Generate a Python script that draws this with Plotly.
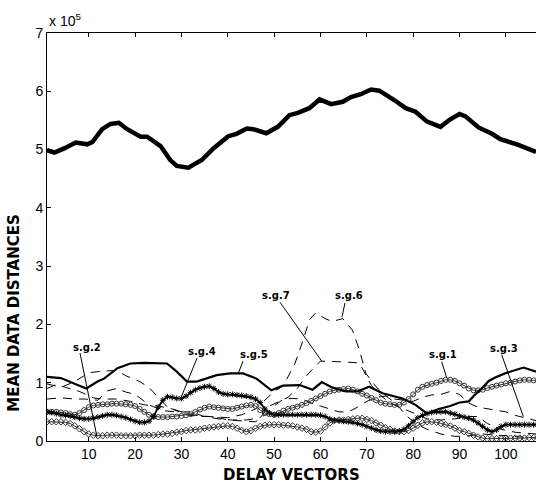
import plotly.graph_objects as go

# ---------------- data (values in units of 1e5) ----------------
mean_x = [1.0, 2.6, 4.7, 7.2, 9.7, 10.8, 12.9, 14.7, 16.5, 18.3, 21.2, 22.6, 25.5, 27.6, 29.0,
          31.5, 34.4, 36.9, 40.1, 41.9, 44.1, 45.5, 48.3, 50.8, 53.3, 55.1, 57.6, 59.8, 62.3,
          64.8, 66.6, 68.7, 70.9, 72.7, 75.9, 78.4, 80.5, 83.0, 85.9, 88.0, 90.0, 91.3, 94.1,
          97.0, 98.8, 102.7, 106.5]
mean_y = [4.99, 4.95, 5.02, 5.12, 5.09, 5.13, 5.35, 5.44, 5.46, 5.35, 5.22, 5.22, 5.06, 4.82, 4.72,
          4.69, 4.82, 5.02, 5.23, 5.27, 5.36, 5.35, 5.28, 5.39, 5.59, 5.63, 5.71, 5.86, 5.78,
          5.82, 5.90, 5.95, 6.03, 6.01, 5.85, 5.71, 5.65, 5.48, 5.39, 5.52, 5.61, 5.57, 5.38,
          5.27, 5.18, 5.08, 4.96]

sg5_x = [1, 4, 7.6, 9.5, 11.9, 13.3, 16.2, 19, 22, 26.9, 29, 31.2, 33.3, 35.5, 37.6, 40.5, 43.3,
         46.2, 49.4, 51.9, 55.5, 58.3, 60.3, 62.5, 65.5, 68, 70.5, 73.4, 77.7, 80.5, 83, 85.5,
         88, 90, 92, 93.4, 94.8, 96.3, 97.7, 99.8, 102, 103.8, 106.5]
sg5_y = [1.10, 1.08, 0.96, 0.90, 1.02, 1.07, 1.25, 1.33, 1.34, 1.33, 1.19, 1.02, 1.02, 1.07, 1.13,
         1.16, 1.16, 1.07, 0.87, 0.95, 0.96, 0.88, 1.01, 0.92, 0.85, 0.85, 0.93, 0.82, 0.73, 0.62,
         0.47, 0.55, 0.60, 0.66, 0.68, 0.80, 0.90, 1.03, 1.09, 1.16, 1.22, 1.26, 1.19]

delay = list(range(1, 108))
sg1_y = [0.50, 0.50, 0.50, 0.49, 0.48, 0.46, 0.45, 0.48, 0.53, 0.58, 0.61, 0.62, 0.63, 0.63, 0.64,
         0.64, 0.64, 0.63, 0.62, 0.60, 0.55, 0.50, 0.45, 0.42, 0.41, 0.41, 0.41, 0.42, 0.42, 0.43,
         0.44, 0.46, 0.50, 0.54, 0.57, 0.59, 0.58, 0.57, 0.56, 0.55, 0.55, 0.57, 0.59, 0.61, 0.62,
         0.60, 0.53, 0.48, 0.46, 0.45, 0.48, 0.52, 0.55, 0.57, 0.59, 0.62, 0.65, 0.69, 0.73, 0.77,
         0.81, 0.85, 0.87, 0.88, 0.89, 0.90, 0.88, 0.85, 0.81, 0.78, 0.74, 0.70, 0.66, 0.64, 0.63,
         0.62, 0.62, 0.66, 0.72, 0.80, 0.88, 0.93, 0.96, 0.98, 1.00, 1.03, 1.05, 1.05, 1.03, 0.99,
         0.95, 0.90, 0.87, 0.87, 0.88, 0.91, 0.93, 0.95, 0.97, 0.99, 1.00, 1.02, 1.04, 1.05, 1.05,
         1.04, 1.03]
sg2_y = [0.33, 0.33, 0.33, 0.33, 0.32, 0.30, 0.26, 0.21, 0.16, 0.12, 0.10, 0.09, 0.09, 0.10, 0.10,
         0.10, 0.09, 0.09, 0.09, 0.09, 0.10, 0.10, 0.10, 0.10, 0.11, 0.12, 0.12, 0.13, 0.15, 0.16,
         0.18, 0.19, 0.19, 0.20, 0.22, 0.23, 0.24, 0.25, 0.26, 0.26, 0.25, 0.22, 0.18, 0.16, 0.18,
         0.22, 0.25, 0.27, 0.28, 0.28, 0.28, 0.27, 0.27, 0.26, 0.24, 0.22, 0.20, 0.16, 0.15, 0.17,
         0.24, 0.31, 0.35, 0.36, 0.36, 0.37, 0.38, 0.39, 0.39, 0.37, 0.35, 0.31, 0.27, 0.23, 0.20,
         0.17, 0.16, 0.16, 0.18, 0.22, 0.27, 0.31, 0.33, 0.33, 0.32, 0.30, 0.28, 0.26, 0.22, 0.18,
         0.16, 0.13, 0.10, 0.07, 0.05, 0.04, 0.04, 0.04, 0.04, 0.05, 0.05, 0.05, 0.05, 0.05, 0.06,
         0.06, 0.06]
sg4_y = [0.50, 0.49, 0.47, 0.45, 0.44, 0.43, 0.41, 0.39, 0.38, 0.38, 0.39, 0.41, 0.43, 0.45, 0.45,
         0.44, 0.42, 0.40, 0.37, 0.34, 0.32, 0.32, 0.34, 0.42, 0.58, 0.70, 0.76, 0.75, 0.73, 0.73,
         0.77, 0.83, 0.88, 0.91, 0.93, 0.94, 0.90, 0.84, 0.81, 0.80, 0.80, 0.79, 0.78, 0.77, 0.75,
         0.72, 0.66, 0.55, 0.48, 0.45, 0.45, 0.45, 0.45, 0.45, 0.45, 0.45, 0.45, 0.45, 0.45, 0.44,
         0.42, 0.38, 0.36, 0.35, 0.34, 0.33, 0.32, 0.30, 0.28, 0.25, 0.22, 0.19, 0.17, 0.16, 0.16,
         0.16, 0.17, 0.20, 0.26, 0.33, 0.40, 0.44, 0.47, 0.49, 0.50, 0.50, 0.50, 0.48, 0.46, 0.43,
         0.41, 0.39, 0.36, 0.31, 0.25, 0.19, 0.16, 0.19, 0.25, 0.28, 0.28, 0.28, 0.28, 0.28, 0.28,
         0.28, 0.28]

sg6_x = [1, 4, 7, 10, 13, 16, 18, 21, 23, 25, 27, 30, 33, 36, 40, 43, 46, 48, 50, 52, 54.5, 56.5,
         57.6, 59, 61, 62.5, 64.8, 66.9, 68.4, 69.8, 72, 74, 76.2, 78.7, 81, 83, 86, 89, 91, 95,
         98, 102, 106.5]
sg6_y = [0.98, 0.92, 1.02, 1.17, 1.20, 1.21, 1.12, 1.02, 0.92, 0.75, 0.58, 0.50, 0.44, 0.42, 0.40,
         0.45, 0.55, 0.70, 0.85, 0.95, 1.33, 1.79, 2.08, 2.20, 2.10, 2.05, 2.10, 1.90, 1.56, 1.16,
         0.93, 0.78, 0.65, 0.42, 0.28, 0.20, 0.12, 0.08, 0.08, 0.12, 0.10, 0.07, 0.05]

sg7_x = [1, 4, 7, 9, 12, 14, 16, 18, 20, 23, 26, 29, 32, 35, 38, 41, 44, 47, 49, 51, 53, 55, 57,
         58.5, 60, 64, 68.4, 69.8, 71, 73, 75, 78, 81, 83, 86, 89, 92, 94, 96, 99, 102, 106.5]
sg7_y = [0.72, 0.74, 0.72, 0.72, 0.70, 0.86, 0.90, 0.84, 0.80, 0.62, 0.52, 0.50, 0.50, 0.42, 0.38,
         0.36, 0.36, 0.40, 0.60, 0.68, 0.75, 0.90, 1.12, 1.25, 1.37, 1.36, 1.34, 1.13, 0.95, 0.78,
         0.65, 0.55, 0.45, 0.38, 0.36, 0.38, 0.42, 0.42, 0.30, 0.20, 0.15, 0.12]

sg3_x = [1, 3, 5, 8, 11, 13, 16, 19, 22, 25, 28, 31, 34, 37, 40, 43, 46, 48, 50, 52, 54, 56, 58,
         60, 62, 64, 66, 68, 70, 72, 74, 76, 78, 80, 82, 84, 86, 88, 90, 92, 94, 96, 98, 100, 102,
         104, 106.5]
sg3_y = [0.90, 0.97, 0.92, 0.85, 0.74, 0.72, 0.72, 0.68, 0.62, 0.60, 0.55, 0.45, 0.42, 0.42, 0.36,
         0.34, 0.33, 0.45, 0.60, 0.72, 0.73, 0.72, 0.65, 0.60, 0.55, 0.50, 0.50, 0.58, 0.68, 0.75,
         0.77, 0.72, 0.70, 0.68, 0.75, 0.79, 0.80, 0.85, 0.80, 0.65, 0.58, 0.55, 0.52, 0.50, 0.44,
         0.40, 0.35]

x_ticks = [10, 20, 30, 40, 50, 60, 70, 80, 90, 100]
y_ticks = [0, 1, 2, 3, 4, 5, 6, 7]

# labels: text, text position, pointer start, pointer end (data units)
labels = [
    ("s.g.1", 86.4, 1.49, 86.16, 1.36, 87.24, 1.08),
    ("s.g.2", 9.6, 1.61, 8.12, 1.51, 11.79, 0.07),
    ("s.g.3", 99.6, 1.58, 99.1, 1.48, 103.76, 0.42),
    ("s.g.4", 34.4, 1.53, 33.36, 1.42, 29.69, 0.70),
    ("s.g.5", 45.7, 1.49, 43.29, 1.37, 42.32, 1.17),
    ("s.g.6", 66.2, 2.49, 65.29, 2.37, 64.65, 2.13),
    ("s.g.7", 50.4, 2.50, 51.27, 2.38, 60.27, 1.37),
]

# ---------------- figure ----------------
fig = go.Figure()
dash = "9px,7px"
fig.add_trace(go.Scatter(x=sg6_x, y=sg6_y, mode="lines", line=dict(color="black", width=1, dash=dash)))
fig.add_trace(go.Scatter(x=sg7_x, y=sg7_y, mode="lines", line=dict(color="black", width=1, dash=dash)))
fig.add_trace(go.Scatter(x=sg3_x, y=sg3_y, mode="lines", line=dict(color="black", width=1, dash=dash)))
fig.add_trace(go.Scatter(x=delay, y=sg2_y, mode="lines+markers",
                         line=dict(color="#333333", width=1),
                         marker=dict(symbol="diamond-open", size=5, color="#333333", line=dict(width=1))))
fig.add_trace(go.Scatter(x=delay, y=sg1_y, mode="lines+markers",
                         line=dict(color="#333333", width=1),
                         marker=dict(symbol="circle-open", size=5, color="#333333", line=dict(width=1))))
fig.add_trace(go.Scatter(x=delay, y=sg4_y, mode="lines+markers",
                         line=dict(color="black", width=1.8),
                         marker=dict(symbol="asterisk-open", size=5, color="black", line=dict(width=1))))
fig.add_trace(go.Scatter(x=sg5_x, y=sg5_y, mode="lines", line=dict(color="black", width=2.2)))
fig.add_trace(go.Scatter(x=mean_x, y=mean_y, mode="lines", line=dict(color="black", width=4.5)))

for txt, tx, ty, x0, y0, x1, y1 in labels:
    fig.add_shape(type="line", xref="x", yref="y", x0=x0, y0=y0, x1=x1, y1=y1,
                  line=dict(color="black", width=1))
    fig.add_annotation(x=tx, y=ty, xref="x", yref="y", text="<b>" + txt + "</b>", showarrow=False,
                       font=dict(family="DejaVu Sans", size=10, color="black"),
                       xanchor="center", yanchor="middle")

fig.add_annotation(x=0, y=1, xref="paper", yref="paper", xanchor="left", yanchor="bottom",
                   text="x 10<sup>5</sup>", showarrow=False, yshift=2,
                   font=dict(family="Liberation Sans", size=14, color="black"))
fig.add_annotation(x=-0.068, y=0.314, xref="paper", yref="paper", xanchor="center", yanchor="middle",
                   text="<b>MEAN DATA DISTANCES</b>", textangle=-90, showarrow=False,
                   font=dict(family="DejaVu Sans", size=15, color="black"))
fig.add_annotation(x=0.5, y=0, xref="paper", yref="paper", xanchor="center", yanchor="middle",
                   text="<b>DELAY VECTORS</b>", showarrow=False, yshift=-34,
                   font=dict(family="DejaVu Sans", size=15, color="black"))

fig.update_layout(
    width=536, height=485,
    margin=dict(l=47, r=0, t=33, b=44, pad=0),
    paper_bgcolor="white", plot_bgcolor="white",
    showlegend=False,
    font=dict(family="Liberation Sans", size=14, color="black"),
)
fig.update_xaxes(range=[1, 106.5], tickvals=x_ticks, ticks="inside", ticklen=4, tickcolor="black",
                 showline=True, linecolor="black", linewidth=1, mirror="ticks",
                 showgrid=False, zeroline=False, tickfont=dict(size=14))
fig.update_yaxes(range=[0, 7], tickvals=y_ticks, ticks="inside", ticklen=4, tickcolor="black",
                 showline=True, linecolor="black", linewidth=1, mirror=False,
                 showgrid=False, zeroline=False, tickfont=dict(size=14))

fig.write_html("out.html")
